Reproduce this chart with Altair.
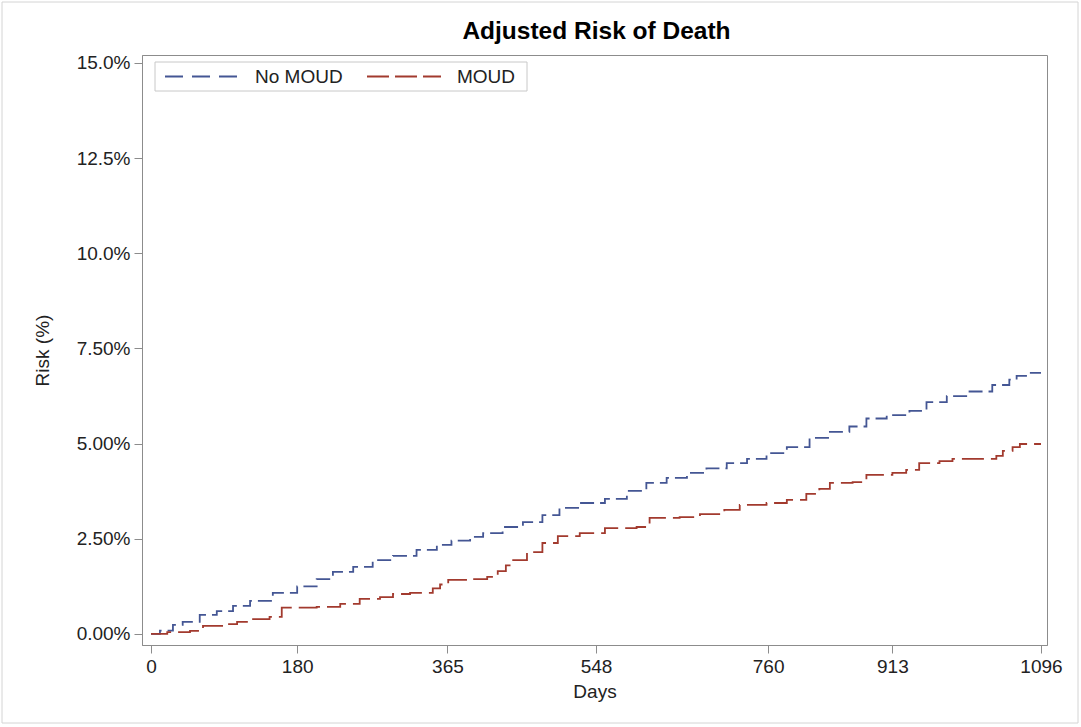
import altair as alt
import pandas as pd

# Adjusted cumulative risk of death (%) by day, one step curve per group
nomoud_days = [0, 11, 27, 39, 60, 81, 101, 122, 150, 180, 204, 224, 249, 273, 298, 327,
               352, 370, 393, 409, 433, 458, 482, 503, 528, 559, 586, 610, 635, 660, 684,
               709, 734, 758, 783, 811, 836, 860, 881, 906, 934, 955, 980, 1008, 1036,
               1057, 1066, 1082, 1096]
nomoud_risk = [0.00, 0.09, 0.24, 0.32, 0.50, 0.60, 0.74, 0.87, 1.08, 1.25, 1.44, 1.63, 1.76,
               1.94, 2.05, 2.21, 2.34, 2.45, 2.55, 2.65, 2.81, 2.94, 3.12, 3.31, 3.44, 3.55,
               3.76, 3.97, 4.10, 4.23, 4.35, 4.49, 4.60, 4.75, 4.91, 5.15, 5.31, 5.45, 5.66,
               5.75, 5.86, 6.09, 6.25, 6.37, 6.54, 6.68, 6.78, 6.86, 6.86]

moud_days = [0, 20, 48, 64, 94, 106, 122, 146, 161, 204, 233, 257, 282, 298, 319, 347, 356,
             366, 393, 414, 427, 437, 446, 463, 482, 501, 528, 559, 598, 614, 651, 676, 706,
             725, 758, 783, 807, 823, 836, 864, 881, 913, 930, 946, 971, 987, 1041, 1049,
             1061, 1070, 1096]
moud_risk = [0.00, 0.05, 0.08, 0.21, 0.26, 0.32, 0.39, 0.45, 0.69, 0.71, 0.79, 0.92, 0.97,
             1.05, 1.08, 1.20, 1.30, 1.42, 1.44, 1.50, 1.65, 1.80, 1.94, 2.15, 2.39, 2.57,
             2.65, 2.78, 2.81, 3.05, 3.07, 3.15, 3.26, 3.39, 3.44, 3.52, 3.68, 3.81, 3.97,
             3.99, 4.18, 4.23, 4.31, 4.49, 4.54, 4.60, 4.68, 4.81, 4.91, 4.99, 4.99]

groups = ["No MOUD", "MOUD"]
group_colors = ["#445694", "#A23A2E"]
group_dashes = [[14, 6], [22, 7]]

x_ticks = [0, 180, 365, 548, 760, 913, 1096]
y_ticks = [0, 2.5, 5, 7.5, 10, 12.5, 15]
y_tick_labels = ["0.00%", "2.50%", "5.00%", "7.50%", "10.0%", "12.5%", "15.0%"]

chart_title = "Adjusted Risk of Death"

df = pd.concat([
    pd.DataFrame({"day": nomoud_days, "risk": nomoud_risk, "group": groups[0]}),
    pd.DataFrame({"day": moud_days, "risk": moud_risk, "group": groups[1]}),
])

# y labels keep the mixed decimal formatting of the tick list
y_label_expr = "".join(
    f"datum.value == {v} ? '{lab}' : " for v, lab in zip(y_ticks, y_tick_labels)
) + "''"

FONT = "Liberation Sans"
W, H = 905, 590

lines = alt.Chart(df).mark_line(interpolate="step-after", strokeWidth=1.8).encode(
    x=alt.X("day:Q", title="Days",
            scale=alt.Scale(domain=[-11.1, 1103.4], nice=False, zero=False),
            axis=alt.Axis(values=x_ticks, format="d", grid=False)),
    y=alt.Y("risk:Q", title="Risk (%)",
            scale=alt.Scale(domain=[-0.29, 15.21], nice=False, zero=False),
            axis=alt.Axis(values=y_ticks, labelExpr=y_label_expr, grid=False)),
    color=alt.Color("group:N", scale=alt.Scale(domain=groups, range=group_colors), legend=None),
    strokeDash=alt.StrokeDash("group:N", scale=alt.Scale(domain=groups, range=group_dashes),
                              legend=None),
    detail="group:N",
)

one = pd.DataFrame({"k": [0]})

# Legend box drawn inside the plot's upper-left corner
legend_box = alt.Chart(one).mark_rect(fill="white", stroke="#c8c8c8", strokeWidth=1).encode(
    x=alt.value(13), x2=alt.value(385), y=alt.value(7), y2=alt.value(36)
)
leg_layers = [legend_box]
for name, col, dash, x0, x1, xt in [
    (groups[0], group_colors[0], [18, 9], 23, 98, 113),
    (groups[1], group_colors[1], [22, 6], 225, 299, 315),
]:
    leg_layers.append(
        alt.Chart(one).mark_rule(color=col, strokeDash=dash, strokeWidth=1.8).encode(
            x=alt.value(x0), x2=alt.value(x1), y=alt.value(21.5)
        )
    )
    leg_layers.append(
        alt.Chart(one).mark_text(align="left", baseline="middle", font=FONT, fontSize=19,
                                 color="#222222").encode(
            x=alt.value(xt), y=alt.value(22), text=alt.value(name)
        )
    )

# bold heading centred over the plot area
heading = alt.Chart(one).mark_text(align="center", baseline="middle", font=FONT, fontSize=24.5,
                                   fontWeight="bold", color="#000000").encode(
    x=alt.value(W / 2 + 2), y=alt.value(-23), text=alt.value(chart_title)
)

# thin outline around the whole figure
outline = alt.Chart(one).mark_rect(fill=None, stroke="#d4d4d4", strokeWidth=1).encode(
    x=alt.value(-140), x2=alt.value(936), y=alt.value(-53), y2=alt.value(668)
)

chart = alt.layer(outline, lines, heading, *leg_layers).properties(
    width=W, height=H,
    background="white",
    autosize=alt.AutoSizeParams(type="none"),
    padding={"left": 142, "top": 55, "right": 34, "bottom": 82},
).configure_view(
    stroke="#8c8c8c", strokeWidth=1
).configure_axis(
    domainColor="#8c8c8c", tickColor="#8c8c8c", tickSize=8, domainWidth=1,
    labelFont=FONT, labelFontSize=19, labelColor="#222222", labelPadding=4,
    titleFont=FONT, titleFontSize=19, titleFontWeight="normal", titleColor="#222222",
).configure_axisX(
    titlePadding=6
).configure_axisY(
    titlePadding=24
)

chart.save("out.html", embed_options={"renderer": "svg", "actions": False})
